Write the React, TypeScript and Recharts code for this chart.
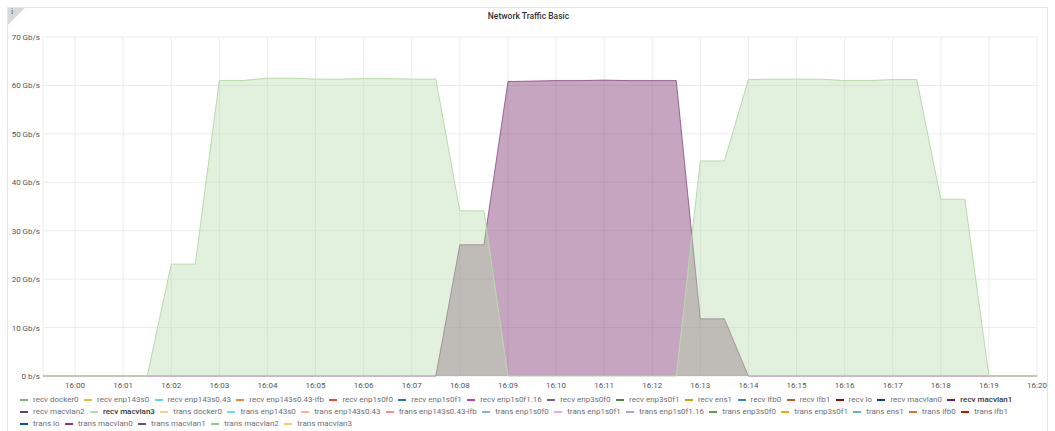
import { AreaChart, Area, XAxis, YAxis, CartesianGrid } from "recharts";

// samples every 30s
const sampleTimes = [
  "15:59:00", "15:59:30", "16:00:00", "16:00:30", "16:01:00", "16:01:30",
  "16:02:00", "16:02:30", "16:03:00", "16:03:30", "16:04:00", "16:04:30",
  "16:05:00", "16:05:30", "16:06:00", "16:06:30", "16:07:00", "16:07:30",
  "16:08:00", "16:08:30", "16:09:00", "16:09:30", "16:10:00", "16:10:30",
  "16:11:00", "16:11:30", "16:12:00", "16:12:30", "16:13:00", "16:13:30",
  "16:14:00", "16:14:30", "16:15:00", "16:15:30", "16:16:00", "16:16:30",
  "16:17:00", "16:17:30", "16:18:00", "16:18:30", "16:19:00", "16:19:30",
  "16:20:00",
];

// Gb/s
const recvMacvlan1 = [
  0, 0, 0, 0, 0, 0,
  0, 0, 0, 0, 0, 0,
  0, 0, 0, 0, 0, 0,
  27.1, 27.1, 60.8, 60.9, 61.0, 61.0,
  61.1, 61.0, 61.0, 61.0, 11.8, 11.8,
  0, 0, 0, 0, 0, 0,
  0, 0, 0, 0, 0, 0,
  0,
];

const recvMacvlan3 = [
  0, 0, 0, 0, 0, 0,
  23.1, 23.1, 61.0, 61.0, 61.5, 61.5,
  61.3, 61.3, 61.4, 61.4, 61.3, 61.3,
  34.1, 34.1, 0, 0, 0, 0,
  0, 0, 0, 0, 44.4, 44.4,
  61.2, 61.3, 61.3, 61.3, 61.0, 61.0,
  61.2, 61.2, 36.5, 36.5, 0, 0,
  0,
];

const xTickLabels = [
  "16:00", "16:01", "16:02", "16:03", "16:04", "16:05", "16:06", "16:07",
  "16:08", "16:09", "16:10", "16:11", "16:12", "16:13", "16:14", "16:15",
  "16:16", "16:17", "16:18", "16:19", "16:20",
];

const yTicks = [0, 10, 20, 30, 40, 50, 60, 70];

const seriesNames = [
  "recv docker0", "recv enp143s0", "recv enp143s0.43", "recv enp143s0.43-ifb",
  "recv enp1s0f0", "recv enp1s0f1", "recv enp1s0f1.16", "recv enp3s0f0",
  "recv enp3s0f1", "recv ens1", "recv ifb0", "recv ifb1", "recv lo",
  "recv macvlan0", "recv macvlan1", "recv macvlan2", "recv macvlan3",
  "trans docker0", "trans enp143s0", "trans enp143s0.43", "trans enp143s0.43-ifb",
  "trans enp1s0f0", "trans enp1s0f1", "trans enp1s0f1.16", "trans enp3s0f0",
  "trans enp3s0f1", "trans ens1", "trans ifb0", "trans ifb1", "trans lo",
  "trans macvlan0", "trans macvlan1", "trans macvlan2", "trans macvlan3",
];

const seriesColors = [
  "#7EB26D", "#EAB839", "#6ED0E0", "#EF843C", "#E24D42", "#1F78C1", "#BA43A9",
  "#705DA0", "#508642", "#CCA300", "#447EBC", "#C15C17", "#890F02", "#0A437C",
  "#6D1F62", "#584477", "#B7DBAB", "#F4D598", "#70DBED", "#F9BA8F", "#F29191",
  "#82B5D8", "#E5A8E2", "#AEA2E0", "#629E51", "#E5AC0E", "#64B0C8", "#E0752D",
  "#BF1B00", "#0A50A1", "#962D82", "#614D93", "#9AC48A", "#F2C96D",
];

const activeSeries = ["recv macvlan1", "recv macvlan3"];

const toMinutes = (t: string) => {
  const [h, m, s] = t.split(":").map(Number);
  return (h - 16) * 60 + m + s / 60;
};

const data = sampleTimes.map((t, i) => ({
  t: toMinutes(t),
  macvlan1: recvMacvlan1[i],
  macvlan3: recvMacvlan3[i],
}));

const xTicks = xTickLabels.map((l) => toMinutes(l + ":00"));

const font = "Roboto, 'Open Sans', sans-serif";

const YTick = (props: any) => {
  const { x, y, payload } = props;
  const v = payload.value;
  return (
    <text
      x={x}
      y={y}
      dy={3}
      textAnchor="end"
      fontSize={8}
      fill="#555"
      fontFamily={font}
    >
      {v === 0 ? "0 b/s" : `${v} Gb/s`}
    </text>
  );
};

function App() {
  return (
    <div
      style={{
        position: "absolute",
        left: 0,
        top: 0,
        width: 1055,
        height: 431,
        background: "#fff",
        fontFamily: font,
        overflow: "hidden",
      }}
    >
      <div
        style={{
          position: "absolute",
          left: 7,
          top: 7,
          width: 1041,
          height: 440,
          border: "1px solid #e6e6e9",
          boxSizing: "border-box",
        }}
      />
      <div
        style={{
          position: "absolute",
          left: 8,
          top: 8,
          width: 0,
          height: 0,
          borderTop: "17px solid #d8d9dc",
          borderRight: "17px solid transparent",
        }}
      />
      <div
        style={{
          position: "absolute",
          left: 11,
          top: 7,
          fontSize: 8,
          color: "#555",
          fontFamily: "serif",
        }}
      >
        i
      </div>
      <div
        style={{
          position: "absolute",
          left: 7,
          width: 1043,
          top: 11,
          textAlign: "center",
          fontSize: 8.5,
          fontWeight: 500,
          color: "#333",
        }}
      >
        Network Traffic Basic
      </div>

      <div style={{ position: "absolute", left: 0, top: 0 }}>
        <AreaChart
          width={1055}
          height={395}
          data={data}
          margin={{ top: 37, right: 18, bottom: 4, left: 0 }}
        >
          <CartesianGrid stroke="#ececec" strokeWidth={1} />
          <XAxis
            dataKey="t"
            type="number"
            domain={[-40 / 60, 20]}
            allowDataOverflow
            ticks={xTicks}
            tickFormatter={(v: number) => xTickLabels[xTicks.indexOf(v)] ?? ""}
            axisLine={false}
            tickLine={false}
            tickSize={0}
            tickMargin={6}
            height={15}
            interval={0}
            tick={{ fontSize: 8, fill: "#555", fontFamily: font }}
          />
          <YAxis
            type="number"
            domain={[0, 70]}
            ticks={yTicks}
            axisLine={false}
            tickLine={false}
            tickSize={0}
            tickMargin={3}
            width={43}
            interval={0}
            tick={<YTick />}
          />
          <Area
            type="linear"
            dataKey="macvlan1"
            name="recv macvlan1"
            stroke="#6D1F62"
            strokeWidth={1}
            strokeOpacity={0.6}
            fill="#6D1F62"
            fillOpacity={0.4}
            isAnimationActive={false}
          />
          <Area
            type="linear"
            dataKey="macvlan3"
            name="recv macvlan3"
            stroke="#B7DBAB"
            strokeWidth={1}
            fill="#B7DBAB"
            fillOpacity={0.4}
            isAnimationActive={false}
          />
        </AreaChart>
      </div>

      <div
        style={{
          position: "absolute",
          left: 20,
          top: 394,
          width: 1015,
          display: "flex",
          flexWrap: "wrap",
          fontSize: 8,
          lineHeight: "12px",
        }}
      >
        {seriesNames.map((name, i) => (
          <div
            key={name}
            style={{ display: "flex", alignItems: "center", marginRight: 5.4 }}
          >
            <span
              style={{
                display: "inline-block",
                width: 8,
                height: 2,
                background: seriesColors[i],
                marginRight: 5,
              }}
            />
            <span
              style={{
                color: activeSeries.includes(name) ? "#333" : "#6e6e73",
                fontWeight: activeSeries.includes(name) ? 500 : 400,
              }}
            >
              {name}
            </span>
          </div>
        ))}
      </div>
    </div>
  );
}

export default App;
